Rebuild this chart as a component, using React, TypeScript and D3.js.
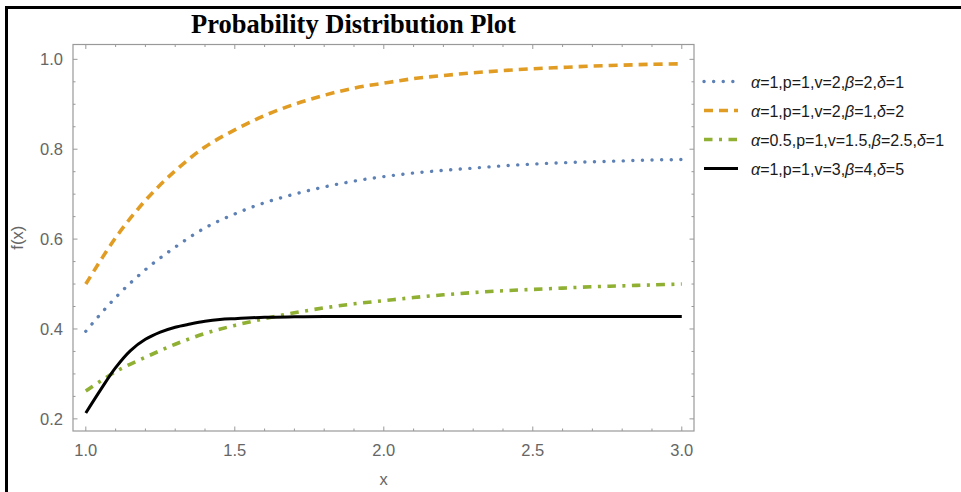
import React, { useEffect, useRef } from 'react';
import * as d3 from 'd3';

// values, x from 1 to 3
const xs = [1.0, 1.1, 1.2, 1.3, 1.4, 1.5, 1.6, 1.7, 1.8, 1.9, 2.0, 2.1, 2.2, 2.3, 2.4, 2.5, 2.6, 2.7, 2.8, 2.9, 3.0];
const blueVals = [0.395, 0.47, 0.532, 0.582, 0.625, 0.656, 0.681, 0.7, 0.716, 0.729, 0.739, 0.747, 0.753, 0.758, 0.763, 0.767, 0.77, 0.772, 0.774, 0.776, 0.777];
const orangeVals = [0.5, 0.603, 0.686, 0.752, 0.805, 0.843, 0.875, 0.9, 0.92, 0.936, 0.947, 0.957, 0.964, 0.97, 0.975, 0.979, 0.982, 0.985, 0.987, 0.989, 0.99];
const greenVals = [0.262, 0.305, 0.337, 0.366, 0.39, 0.408, 0.423, 0.436, 0.447, 0.456, 0.463, 0.47, 0.476, 0.481, 0.485, 0.488, 0.491, 0.494, 0.496, 0.498, 0.5];
const blackXs = [1.0, 1.05, 1.1, 1.15, 1.2, 1.25, 1.3, 1.35, 1.4, 1.45, 1.5, 1.6, 1.7, 1.8, 2.0, 2.5, 3.0];
const blackVals = [0.213, 0.265, 0.314, 0.352, 0.377, 0.393, 0.404, 0.411, 0.417, 0.421, 0.423, 0.426, 0.427, 0.4275, 0.428, 0.428, 0.428];

const xTicks = [1.0, 1.5, 2.0, 2.5, 3.0];
const yTicks = [0.2, 0.4, 0.6, 0.8, 1.0];

const labels = [
  ['α', '=1,p=1,v=2,', 'β', '=2,', 'δ', '=1'],
  ['α', '=1,p=1,v=2,', 'β', '=1,', 'δ', '=2'],
  ['α', '=0.5,p=1,v=1.5,', 'β', '=2.5,', 'δ', '=1'],
  ['α', '=1,p=1,v=3,', 'β', '=4,', 'δ', '=5'],
];

const styles = [
  { color: '#5E81B5', width: 3.4, dash: '0.1 9.5', cap: 'round' },
  { color: '#E19C24', width: 3.6, dash: '9 6', cap: 'butt' },
  { color: '#8FB032', width: 3.6, dash: '8.5 6.5 3 6.5', cap: 'butt' },
  { color: '#000000', width: 3, dash: null, cap: 'butt' },
];

const W = 961;
const H = 492;

const App: React.FC = () => {
  const ref = useRef<SVGSVGElement>(null);

  useEffect(() => {
    if (!ref.current) return;
    const svg = d3.select(ref.current);
    svg.selectAll('*').remove();

    const left = 73, right = 694, top = 44.5, bottom = 431;
    const x = d3.scaleLinear().domain([0.957, 3.041]).range([left, right]);
    const y = d3.scaleLinear().domain([0.173, 1.033]).range([bottom, top]);
    const font = 'Liberation Sans, Arial, sans-serif';

    // outer black frame (runs off the right and bottom edges)
    svg.append('rect')
      .attr('x', 6.5).attr('y', 7.5).attr('width', 1200).attr('height', 1200)
      .attr('fill', 'none').attr('stroke', '#000').attr('stroke-width', 3);

    svg.append('text')
      .attr('x', 353.5).attr('y', 33)
      .attr('text-anchor', 'middle')
      .attr('font-family', 'Liberation Serif, Times New Roman, serif')
      .attr('font-weight', 'bold').attr('font-size', 26.5)
      .text('Probability Distribution Plot');

    // frame
    const g = svg.append('g');
    g.append('rect')
      .attr('x', left).attr('y', top).attr('width', right - left).attr('height', bottom - top)
      .attr('fill', 'none').attr('stroke', '#999').attr('stroke-width', 1.2);

    const xMinor = d3.range(10, 31).map(d => d / 10);
    const yMinor = d3.range(4, 21).map(d => d / 20);
    const isMajor = (v: number, step: number) => Math.abs(v / step - Math.round(v / step)) < 1e-6;

    xMinor.forEach(v => {
      const len = isMajor(v, 0.5) ? 4.5 : 2.5;
      const px = x(v);
      g.append('line').attr('x1', px).attr('x2', px).attr('y1', bottom).attr('y2', bottom - len)
        .attr('stroke', '#999').attr('stroke-width', 1);
      g.append('line').attr('x1', px).attr('x2', px).attr('y1', top).attr('y2', top + len)
        .attr('stroke', '#999').attr('stroke-width', 1);
    });
    yMinor.forEach(v => {
      const len = isMajor(v, 0.2) ? 4.5 : 2.5;
      const py = y(v);
      g.append('line').attr('x1', left).attr('x2', left + len).attr('y1', py).attr('y2', py)
        .attr('stroke', '#999').attr('stroke-width', 1);
      g.append('line').attr('x1', right).attr('x2', right - len).attr('y1', py).attr('y2', py)
        .attr('stroke', '#999').attr('stroke-width', 1);
    });

    g.selectAll('text.xt').data(xTicks).enter().append('text')
      .attr('x', d => x(d)).attr('y', 456)
      .attr('text-anchor', 'middle').attr('font-family', font).attr('font-size', 16.5)
      .attr('fill', '#666').text(d => d.toFixed(1));
    g.selectAll('text.yt').data(yTicks).enter().append('text')
      .attr('x', 63).attr('y', d => y(d) + 6)
      .attr('text-anchor', 'end').attr('font-family', font).attr('font-size', 16.5)
      .attr('fill', '#666').text(d => d.toFixed(1));

    svg.append('text')
      .attr('x', (left + right) / 2).attr('y', 485)
      .attr('text-anchor', 'middle').attr('font-family', font).attr('font-size', 16.5)
      .attr('fill', '#666').text('x');
    svg.append('text')
      .attr('transform', `translate(23,${(top + bottom) / 2}) rotate(-90)`)
      .attr('text-anchor', 'middle').attr('font-family', font).attr('font-size', 16.5)
      .attr('fill', '#666').text('f(x)');

    const series: [number, number][][] = [
      xs.map((d, i) => [d, blueVals[i]]),
      xs.map((d, i) => [d, orangeVals[i]]),
      xs.map((d, i) => [d, greenVals[i]]),
      blackXs.map((d, i) => [d, blackVals[i]]),
    ];
    const line = d3.line<[number, number]>()
      .x(d => x(d[0])).y(d => y(d[1]))
      .curve(d3.curveCatmullRom.alpha(0.5));

    series.forEach((s, i) => {
      const st = styles[i];
      g.append('path').datum(s)
        .attr('d', line)
        .attr('fill', 'none')
        .attr('stroke', st.color)
        .attr('stroke-width', st.width)
        .attr('stroke-linecap', st.cap)
        .attr('stroke-linejoin', 'round')
        .attr('stroke-dasharray', st.dash);
    });

    // legend
    const lg = svg.append('g');
    const rowY = [81.5, 110.5, 139.5, 168.5];
    labels.forEach((parts, i) => {
      const st = styles[i];
      lg.append('line')
        .attr('x1', 704).attr('x2', 738).attr('y1', rowY[i]).attr('y2', rowY[i])
        .attr('stroke', st.color).attr('stroke-width', st.width)
        .attr('stroke-linecap', st.cap).attr('stroke-dasharray', st.dash);
      const t = lg.append('text')
        .attr('x', 751).attr('y', rowY[i] + 6)
        .attr('font-family', font).attr('font-size', 16)
        .attr('fill', '#1a1a1a');
      parts.forEach((p, j) => {
        t.append('tspan').attr('font-style', j % 2 === 0 ? 'italic' : 'normal').text(p);
      });
    });
  }, []);

  return (
    <svg
      ref={ref}
      width={W}
      height={H}
      style={{ position: 'absolute', left: 0, top: 0, background: '#fff' }}
    />
  );
};

export default App;
